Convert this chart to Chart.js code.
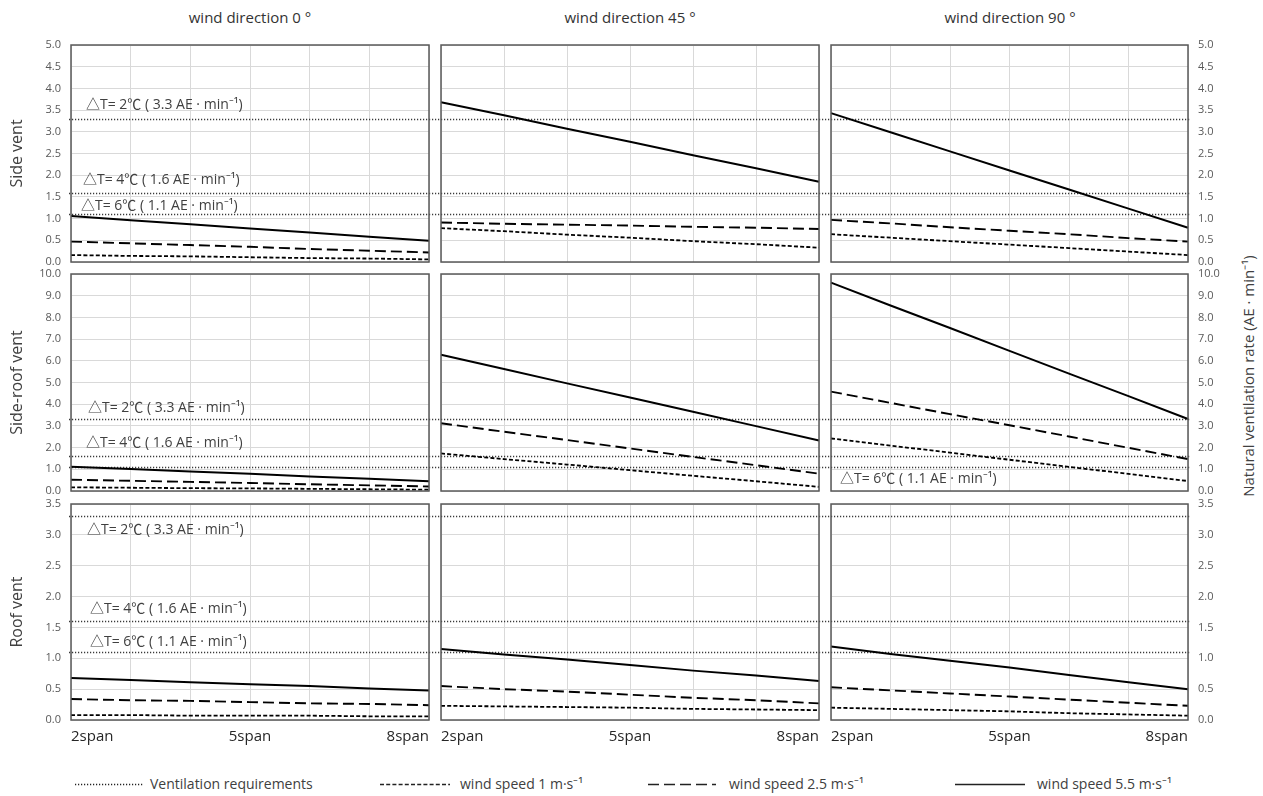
<!DOCTYPE html>
<html>
<head>
<meta charset="utf-8">
<script src="https://cdn.jsdelivr.net/npm/chart.js@4"></script>
<style>
  html, body { margin:0; padding:0; background:#fff; }
  body { width:1263px; height:796px; position:relative; overflow:hidden;
         font-family:"Open Sans","Noto Sans CJK KR",sans-serif; color:#404040; }
  canvas { position:absolute; }
  .coltitle { position:absolute; top:6px; width:380px; text-align:center; font-size:15px; line-height:22px; color:#333; }
  .ytitle { position:absolute; left:1248px; top:376px; white-space:nowrap; font-size:15px; line-height:20px; color:#404040;
            transform:translate(-50%,-50%) rotate(-90deg); }
  .leg { position:absolute; top:774px; font-size:14px; line-height:20px; color:#404040; white-space:nowrap; }
  svg.ls { position:absolute; top:778px; }
</style>
</head>
<body>
<script>
// ---------- DATA ----------
const categories = ['2span','3span','4span','5span','6span','7span','8span'];
const shownTicks = ['2span','5span','8span'];
const windDirections = ['wind direction 0 °','wind direction 45 °','wind direction 90 °'];
const rowTitles = ['Side vent','Side-roof vent','Roof vent'];
const rightTitle = 'Natural ventilation rate (AE · min⁻¹)';
const seriesNames = ['wind speed 1 m·s⁻¹','wind speed 2.5 m·s⁻¹','wind speed 5.5 m·s⁻¹'];
const refName = 'Ventilation requirements';
const refValues = [3.3, 1.6, 1.1];
const refLabels = ['△T= 2℃ ( 3.3 AE · min⁻¹)','△T= 4℃ ( 1.6 AE · min⁻¹)','△T= 6℃ ( 1.1 AE · min⁻¹)'];

// y-axis ranges per row
const yMax = [5, 10, 3.5];
const yStep = [0.5, 1, 0.5];

// Side vent
const side0_ws1   = [0.16,0.14,0.13,0.11,0.09,0.08,0.06];
const side0_ws25  = [0.47,0.43,0.39,0.35,0.30,0.26,0.22];
const side0_ws55  = [1.06,0.96,0.87,0.77,0.68,0.58,0.49];
const side45_ws1  = [0.78,0.71,0.63,0.56,0.48,0.41,0.33];
const side45_ws25 = [0.91,0.88,0.86,0.84,0.81,0.79,0.76];
const side45_ws55 = [3.68,3.38,3.07,2.77,2.46,2.16,1.85];
const side90_ws1  = [0.64,0.56,0.48,0.40,0.32,0.24,0.16];
const side90_ws25 = [0.97,0.89,0.80,0.72,0.64,0.55,0.47];
const side90_ws55 = [3.43,2.99,2.55,2.11,1.67,1.23,0.79];
// Side-roof vent
const sideRoof0_ws1   = [0.17,0.15,0.13,0.12,0.10,0.08,0.06];
const sideRoof0_ws25  = [0.52,0.47,0.42,0.37,0.31,0.26,0.21];
const sideRoof0_ws55  = [1.12,1.01,0.90,0.79,0.67,0.56,0.45];
const sideRoof45_ws1  = [1.73,1.47,1.22,0.96,0.70,0.45,0.19];
const sideRoof45_ws25 = [3.12,2.73,2.35,1.96,1.57,1.19,0.80];
const sideRoof45_ws55 = [6.28,5.62,4.96,4.31,3.65,2.99,2.33];
const sideRoof90_ws1  = [2.42,2.09,1.77,1.44,1.11,0.79,0.46];
const sideRoof90_ws25 = [4.58,4.06,3.54,3.03,2.51,1.99,1.47];
const sideRoof90_ws55 = [9.60,8.55,7.51,6.46,5.41,4.37,3.32];
// Roof vent
const roof0_ws1   = [0.08,0.08,0.07,0.07,0.07,0.06,0.06];
const roof0_ws25  = [0.34,0.32,0.31,0.29,0.27,0.26,0.24];
const roof0_ws55  = [0.68,0.65,0.61,0.58,0.55,0.51,0.48];
const roof45_ws1  = [0.23,0.22,0.21,0.20,0.18,0.17,0.16];
const roof45_ws25 = [0.55,0.50,0.46,0.41,0.36,0.32,0.27];
const roof45_ws55 = [1.15,1.06,0.98,0.89,0.80,0.72,0.63];
const roof90_ws1  = [0.20,0.18,0.16,0.14,0.11,0.09,0.07];
const roof90_ws25 = [0.53,0.48,0.43,0.38,0.33,0.28,0.23];
const roof90_ws55 = [1.19,1.07,0.96,0.85,0.73,0.61,0.50];

const panelData = [
  [[side0_ws1,side0_ws25,side0_ws55],[side45_ws1,side45_ws25,side45_ws55],[side90_ws1,side90_ws25,side90_ws55]],
  [[sideRoof0_ws1,sideRoof0_ws25,sideRoof0_ws55],[sideRoof45_ws1,sideRoof45_ws25,sideRoof45_ws55],[sideRoof90_ws1,sideRoof90_ws25,sideRoof90_ws55]],
  [[roof0_ws1,roof0_ws25,roof0_ws55],[roof45_ws1,roof45_ws25,roof45_ws55],[roof90_ws1,roof90_ws25,roof90_ws55]]
];

// ---------- LAYOUT / STYLE ----------
const FONT = '"Open Sans","Noto Sans CJK KR",sans-serif';
const PADV = 22;
const seriesStyle = [
  {dash:[4,2.2], width:1.8},
  {dash:[11,5], width:1.9},
  {dash:[], width:2}
];
const colGeom = [
  {left:0,   width:441, pad:{left:0, right:12}, ext:[2,12]},
  {left:429, width:402, pad:{left:12,right:12}, ext:[0,12]},
  {left:819, width:444, pad:{left:12,right:35}, ext:[0,2]}
];
const rowGeom = [
  {top:45 - PADV,  plot:217, xh:0},
  {top:274 - PADV, plot:217, xh:0},
  {top:504 - PADV, plot:216, xh:30}
];
// annotation placement: [row, col, refIndex, dx, dy]
const annotPlace = [
  [0,0,0,15,-13.5],[0,0,1,12,-13],[0,0,2,10,-8.5],
  [1,0,0,17,-11],[1,0,1,15,-13.5],[1,2,2,9,12],
  [2,0,0,16,13.5],[2,0,1,19,-12],[2,0,2,19,-10.5]
];

const panelPlugin = {
  id:'panelDeco',
  beforeDatasetsDraw(chart, args, opts) {
    const {ctx, chartArea:a} = chart;
    const y = chart.scales.y;
    ctx.save();
    ctx.strokeStyle = '#3a3a3a';
    ctx.lineWidth = 1.3;
    ctx.setLineDash([1.2,1.8]);
    refValues.forEach(v => {
      const py = Math.round(y.getPixelForValue(v)) + 0.5;
      ctx.beginPath();
      ctx.moveTo(a.left - opts.ext[0], py);
      ctx.lineTo(a.right + opts.ext[1], py);
      ctx.stroke();
    });
    ctx.restore();
  },
  afterDatasetsDraw(chart, args, opts) {
    const {ctx, chartArea:a} = chart;
    const y = chart.scales.y;
    ctx.save();
    ctx.strokeStyle = '#595959';
    ctx.lineWidth = 1.5;
    ctx.setLineDash([]);
    ctx.strokeRect(a.left, a.top, a.right - a.left, a.bottom - a.top);
    ctx.font = '14px ' + FONT;
    ctx.fillStyle = '#404040';
    ctx.textBaseline = 'middle';
    annotPlace.forEach(([r,c,k,dx,dy]) => {
      if (r === opts.row && c === opts.col) {
        ctx.fillText(refLabels[k], a.left + dx, y.getPixelForValue(refValues[k]) + dy);
      }
    });
    ctx.restore();
  }
};

// titles
const colCenters = [250, 630, 1010];
windDirections.forEach((t,c) => {
  const d = document.createElement('div');
  d.className = 'coltitle';
  d.style.left = (colCenters[c] - 190) + 'px';
  d.textContent = t;
  document.body.appendChild(d);
});
const rt = document.createElement('div');
rt.className = 'ytitle'; rt.textContent = rightTitle;
document.body.appendChild(rt);

// legend
const legendItems = [
  {text:refName, x1:75, x2:143, tx:150, dash:'1.2 1.8', w:1.3},
  {text:seriesNames[0], x1:380, x2:450, tx:460, dash:'4 2.2', w:1.6},
  {text:seriesNames[1], x1:648, x2:716, tx:729, dash:'11 5', w:1.6},
  {text:seriesNames[2], x1:955, x2:1025, tx:1037, dash:'', w:1.6}
];
legendItems.forEach(it => {
  const svg = document.createElementNS('http://www.w3.org/2000/svg','svg');
  svg.setAttribute('class','ls');
  svg.setAttribute('width', it.x2 - it.x1);
  svg.setAttribute('height', 12);
  svg.style.left = it.x1 + 'px';
  const ln = document.createElementNS('http://www.w3.org/2000/svg','line');
  ln.setAttribute('x1',0); ln.setAttribute('x2',it.x2-it.x1);
  ln.setAttribute('y1',6.5); ln.setAttribute('y2',6.5);
  ln.setAttribute('stroke','#222'); ln.setAttribute('stroke-width',it.w);
  if (it.dash) ln.setAttribute('stroke-dasharray',it.dash);
  svg.appendChild(ln);
  document.body.appendChild(svg);
  const d = document.createElement('div');
  d.className = 'leg'; d.style.left = it.tx + 'px'; d.textContent = it.text;
  document.body.appendChild(d);
});

// charts
for (let r = 0; r < 3; r++) {
  for (let c = 0; c < 3; c++) {
    const cg = colGeom[c], rg = rowGeom[r];
    const h = PADV + rg.plot + rg.xh + PADV;
    const cv = document.createElement('canvas');
    cv.width = cg.width; cv.height = h;
    cv.style.left = cg.left + 'px'; cv.style.top = rg.top + 'px';
    cv.style.width = cg.width + 'px'; cv.style.height = h + 'px';
    document.body.appendChild(cv);

    const datasets = panelData[r][c].map((arr,i) => ({
      label: seriesNames[i],
      data: arr,
      borderColor:'#000',
      borderWidth: seriesStyle[i].width,
      borderDash: seriesStyle[i].dash,
      pointRadius:0,
      tension:0,
      fill:false
    }));

    const showY = c !== 1;
    new Chart(cv, {
      type:'line',
      data:{ labels:categories, datasets },
      plugins:[panelPlugin],
      options:{
        responsive:false,
        animation:false,
        events:[],
        layout:{ autoPadding:false, padding:{ left:cg.pad.left, right:cg.pad.right, top:PADV, bottom:PADV } },
        plugins:{ legend:{display:false}, tooltip:{enabled:false}, title:{display:false},
                  panelDeco:{ row:r, col:c, ext:cg.ext } },
        scales:{
          x:{
            type:'category',
            offset:false,
            grid:{ color:'#d9d9d9', lineWidth:1, drawTicks:false },
            border:{ display:false },
            ticks:{
              display: r === 2,
              autoSkip:false, maxRotation:0, minRotation:0,
              align:'inner', padding:8,
              color:'#262626',
              font:{ family:FONT, size:15 },
              callback(v){ const l = this.getLabelForValue(v); return shownTicks.includes(l) ? l : ''; }
            },
            afterFit(s){ s.height = rg.xh; }
          },
          y:{
            position: c === 2 ? 'right' : 'left',
            min:0, max:yMax[r],
            grid:{ color:'#d9d9d9', lineWidth:1, drawTicks:false },
            border:{ display:false },
            ticks:{
              display: showY,
              stepSize: yStep[r],
              padding: 10,
              color:'#595959',
              font:{ family:FONT, size:11 },
              callback(v){ return Number(v).toFixed(1); }
            },
            title:{
              display: c === 0,
              text: rowTitles[r],
              color:'#404040',
              font:{ family:FONT, size:16 },
              padding:{ top:8, bottom:0 }
            },
            afterFit(s){ s.width = c === 0 ? 71 : (c === 2 ? 40 : 0); }
          }
        }
      }
    });
  }
}
</script>
</body>
</html>
